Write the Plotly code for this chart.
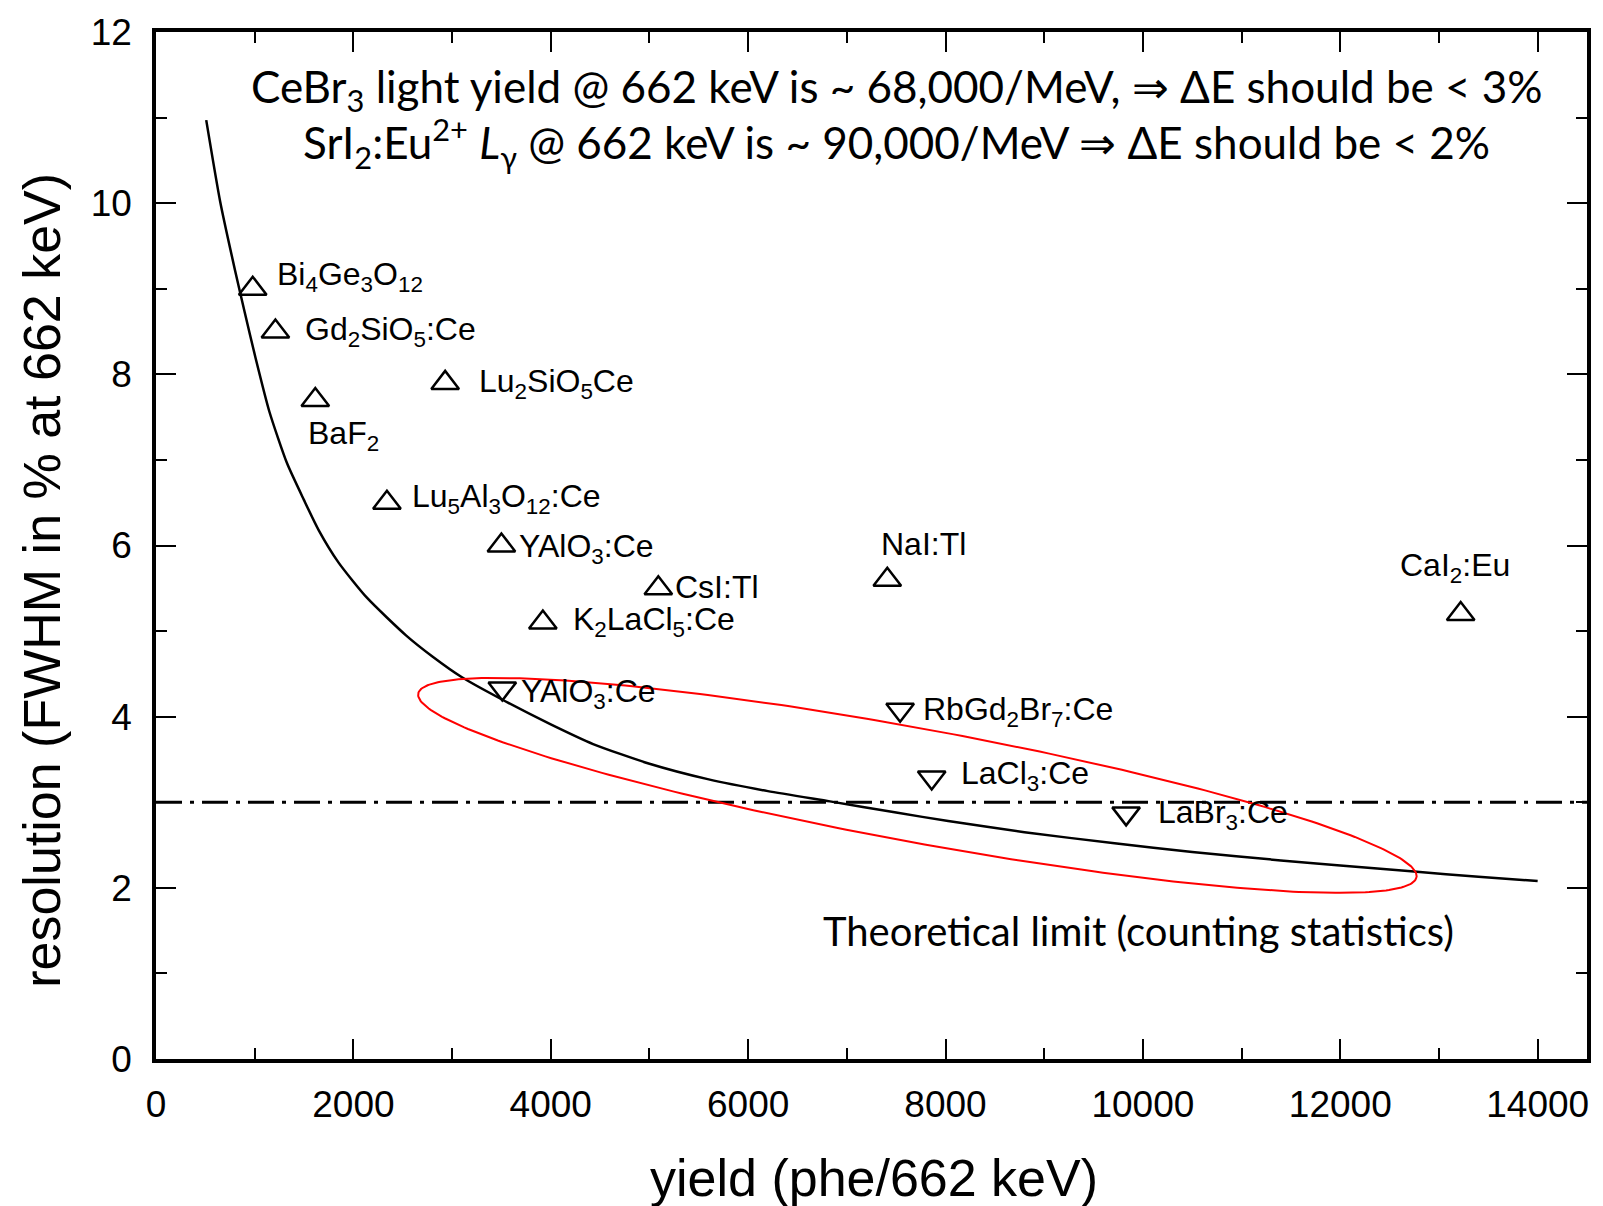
import numpy as np
import plotly.graph_objects as go

# ---------------- data ----------------
curve_x = [509, 650, 800, 900, 1007, 1150, 1328, 1500, 1648, 1850, 2137, 2533, 2804,
           3100, 3539, 4000, 4429, 5000, 5590, 6200, 6829, 7500, 8027, 8800, 9713,
           10500, 11398, 12000, 12747, 13400, 14000]
curve_y = [10.97, 10.02, 9.22, 8.72, 8.2, 7.56, 6.96, 6.53, 6.18, 5.8, 5.39, 4.95, 4.70,
           4.46, 4.18, 3.91, 3.68, 3.45, 3.27, 3.13, 3.01, 2.88, 2.78, 2.65, 2.52,
           2.42, 2.32, 2.26, 2.19, 2.13, 2.08]

up_names = ["Bi<sub>4</sub>Ge<sub>3</sub>O<sub>12</sub>", "Gd<sub>2</sub>SiO<sub>5</sub>:Ce",
            "Lu<sub>2</sub>SiO<sub>5</sub>Ce", "BaF<sub>2</sub>",
            "Lu<sub>5</sub>Al<sub>3</sub>O<sub>12</sub>:Ce", "YAlO<sub>3</sub>:Ce",
            "CsI:Tl", "K<sub>2</sub>LaCl<sub>5</sub>:Ce", "NaI:Tl", "CaI<sub>2</sub>:Eu"]
up_x = [980, 1210, 2930, 1614, 2340, 3500, 5090, 3920, 7410, 13220]
up_y = [9.0, 8.5, 7.9, 7.7, 6.5, 6.0, 5.5, 5.1, 5.6, 5.2]

down_names = ["YAlO<sub>3</sub>:Ce", "RbGd<sub>2</sub>Br<sub>7</sub>:Ce",
              "LaCl<sub>3</sub>:Ce", "LaBr<sub>3</sub>:Ce"]
down_x = [3509, 7540, 7860, 9830]
down_y = [4.33, 4.08, 3.29, 2.87]

limit_level = 3.0

# label anchor positions (left edge, vertical middle) in data units
up_label_x = [1210, 1489, 3257, 1520, 2575, 3660, 5243, 4208, 7331, 12584]
up_label_y = [9.14, 8.5, 7.89, 7.29, 6.55, 5.96, 5.52, 5.11, 6.02, 5.74]
down_label_x = [3681, 7755, 8138, 10133]
down_label_y = [4.27, 4.06, 3.31, 2.86]

# ---------------- layout geometry ----------------
W, H = 1603, 1206
ML, MR, MT, MB = 156, 13, 29, 147
XR = [0, 14500]
YR = [0, 12]
px_per_x = (W - ML - MR) / (XR[1] - XR[0])
px_per_y = (H - MT - MB) / (YR[1] - YR[0])

# red ellipse (annotation shape), defined in pixel units around a data-space centre
ell_cx, ell_cy = 7715, 3.197
ell_a, ell_b, ell_ang = 508.6, 57.0, np.deg2rad(10.43)
t = np.linspace(0, 2 * np.pi, 361)
dxp = ell_a * np.cos(t) * np.cos(ell_ang) - ell_b * np.sin(t) * np.sin(ell_ang)
dyp = ell_a * np.cos(t) * np.sin(ell_ang) + ell_b * np.sin(t) * np.cos(ell_ang)
ell_x = ell_cx + dxp / px_per_x
ell_y = ell_cy - dyp / px_per_y

ARIAL = "Liberation Sans, Arial, sans-serif"
CAL = "Lato, Carlito, Calibri, sans-serif"

fig = go.Figure()

fig.add_trace(go.Scatter(x=[XR[0], XR[1]], y=[limit_level, limit_level], mode="lines",
                         line=dict(color="black", width=3, dash="26px,8px,4px,8px"),
                         hoverinfo="skip", showlegend=False))
fig.add_trace(go.Scatter(x=curve_x, y=curve_y, mode="lines",
                         line=dict(color="black", width=2.5, shape="spline", smoothing=0.6),
                         showlegend=False))
fig.add_trace(go.Scatter(x=list(ell_x), y=list(ell_y), mode="lines",
                         line=dict(color="#ff0000", width=2), hoverinfo="skip",
                         showlegend=False))
fig.add_trace(go.Scatter(x=up_x, y=up_y, mode="markers",
                         marker=dict(symbol="triangle-up-open", size=24, color="black",
                                     line=dict(width=2.5, color="black")),
                         showlegend=False))
fig.add_trace(go.Scatter(x=down_x, y=down_y, mode="markers",
                         marker=dict(symbol="triangle-down-open", size=24, color="black",
                                     line=dict(width=2.5, color="black")),
                         showlegend=False))

annotations = []
for name, lx, ly in zip(up_names + down_names, up_label_x + down_label_x,
                        up_label_y + down_label_y):
    annotations.append(dict(x=lx, y=ly, xref="x", yref="y", text=name, showarrow=False,
                            xanchor="left", yanchor="middle",
                            font=dict(family=ARIAL, size=32, color="black")))

annotations += [
    dict(x=7507, y=11.33, xref="x", yref="y", showarrow=False, xanchor="center",
         yanchor="middle",
         text="CeBr<sub>3</sub> light yield @ 662 keV is ~ 68,000/MeV, \u21D2 \u0394E should be < 3%",
         font=dict(family=CAL, size=44, color="black")),
    dict(x=7499, y=10.70, xref="x", yref="y", showarrow=False, xanchor="center",
         yanchor="middle",
         text="SrI<sub>2</sub>:Eu<sup>2+</sup> <i>L</i><sub>\u03b3</sub> @ 662 keV is ~ 90,000/MeV \u21D2 \u0394E should be < 2%",
         font=dict(family=CAL, size=44, color="black")),
    dict(x=9959, y=1.50, xref="x", yref="y", showarrow=False, xanchor="center",
         yanchor="middle", text="Theoretical limit (counting statistics)",
         font=dict(family=CAL, size=40, color="black")),
    dict(x=0.5014, y=-0.1154, xref="paper", yref="paper", showarrow=False,
         xanchor="center", yanchor="middle", text="yield (phe/662 keV)",
         font=dict(family=ARIAL, size=52, color="black")),
    dict(x=-0.0798, y=0.4664, xref="paper", yref="paper", showarrow=False,
         xanchor="center", yanchor="middle", textangle=-90,
         text="resolution (FWHM in % at 662 keV)",
         font=dict(family=ARIAL, size=52, color="black")),
]

axis_common = dict(showline=True, linecolor="black", linewidth=3.5, mirror="ticks",
                   ticks="inside", ticklen=20, tickwidth=2, tickcolor="black",
                   showgrid=False, zeroline=False,
                   tickfont=dict(family=ARIAL, size=37, color="black"))

fig.update_layout(
    width=W, height=H,
    margin=dict(l=ML, r=MR, t=MT, b=MB),
    plot_bgcolor="white", paper_bgcolor="white",
    annotations=annotations,
    xaxis=dict(range=XR, tick0=0, dtick=2000, tickformat="d",
               minor=dict(dtick=1000, ticks="inside", ticklen=11, tickwidth=2,
                          tickcolor="black", showgrid=False),
               ticklabelstandoff=10, **axis_common),
    yaxis=dict(range=YR, tick0=0, dtick=2, tickformat="d",
               minor=dict(dtick=1, ticks="inside", ticklen=11, tickwidth=2,
                          tickcolor="black", showgrid=False),
               ticklabelstandoff=13, **axis_common),
)

fig.write_html("out.html")
